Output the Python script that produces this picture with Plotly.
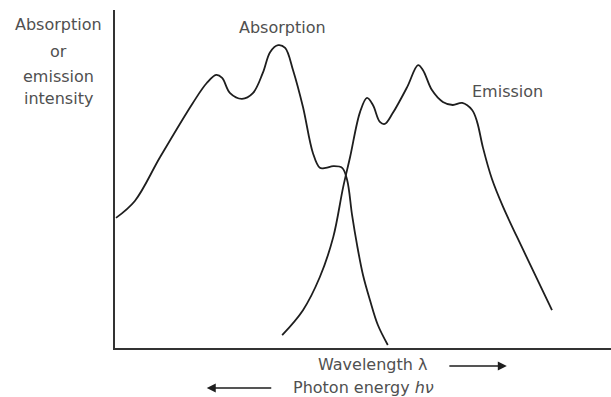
import plotly.graph_objects as go

# Absorption spectrum (arbitrary wavelength units 0-100, arbitrary intensity 0-100)
abs_x = [0.2, 4.0, 9.1, 15.7, 18.5, 20.4, 21.6, 23.2, 25.6, 27.8, 29.8, 31.3, 32.9,
         34.3, 35.9, 37.9, 39.9, 41.3, 42.5, 44.0, 45.8, 46.8, 47.8, 48.8, 50.0, 51.4, 53.0, 55.0]
abs_y = [38.5, 43.5, 56.5, 72.5, 78.4, 80.8, 79.9, 75.4, 73.7, 75.4, 81.4, 87.6, 89.6,
         88.8, 82.2, 71.3, 57.7, 53.3, 53.3, 53.8, 53.3, 49.7, 39.3, 30.5, 21.6, 14.2, 6.8, 0.9]

# Emission spectrum
emi_x = [33.7, 37.9, 41.3, 44.0, 46.0, 47.4, 49.4, 50.8, 52.0, 53.4, 54.4, 56.0, 58.9, 61.1,
         62.1, 63.9, 66.1, 68.1, 70.0, 72.0, 73.0, 74.2, 76.0, 78.2, 82.3, 88.1]
emi_y = [3.8, 11.2, 21.0, 32.8, 47.6, 56.5, 69.8, 74.0, 71.9, 66.9, 66.3, 69.5, 77.2, 83.7,
         82.2, 76.3, 72.8, 71.9, 72.5, 70.4, 66.9, 59.2, 50.0, 41.9, 29.0, 11.2]

ylabel_lines = ["Absorption", "or", "emission", "intensity"]
curve_labels = ["Absorption", "Emission"]
xlabel_top = "Wavelength λ"
xlabel_bottom = "Photon energy <i>hν</i>"

LINE = "#1e1e1e"
TEXT = "#505050"
FONT = "DejaVu Sans"

fig = go.Figure()
for xs, ys in ((abs_x, abs_y), (emi_x, emi_y)):
    fig.add_trace(go.Scatter(x=xs, y=ys, mode="lines",
                             line=dict(color=LINE, width=1.8, shape="spline", smoothing=1.0),
                             hoverinfo="skip", showlegend=False))

f = dict(family=FONT, size=16, color=TEXT)
ann = []
# y-axis label lines (paper coords, left of the plot area)
for txt, yy in zip(ylabel_lines, [0.956, 0.876, 0.802, 0.737]):
    ann.append(dict(x=-0.113, y=yy, xref="paper", yref="paper", text=txt, showarrow=False,
                    font=f, xanchor="center", yanchor="middle"))
# curve labels
ann.append(dict(x=33.7, y=94.7, xref="x", yref="y", text=curve_labels[0], showarrow=False,
                font=f, xanchor="center", yanchor="middle"))
ann.append(dict(x=79.2, y=76.0, xref="x", yref="y", text=curve_labels[1], showarrow=False,
                font=f, xanchor="center", yanchor="middle"))
# bottom labels
ann.append(dict(x=0.520, y=-0.050, xref="paper", yref="paper", text=xlabel_top,
                showarrow=False, font=f, xanchor="center", yanchor="middle"))
ann.append(dict(x=0.502, y=-0.118, xref="paper", yref="paper", text=xlabel_bottom,
                showarrow=False, font=f, xanchor="center", yanchor="middle"))
# arrows
ann.append(dict(x=0.790, y=-0.053, xref="paper", yref="paper", ax=-59, ay=0,
                text="", showarrow=True, arrowhead=2, arrowsize=1.2, arrowwidth=1.5, arrowcolor=LINE))
ann.append(dict(x=0.185, y=-0.118, xref="paper", yref="paper", ax=66, ay=0,
                text="", showarrow=True, arrowhead=2, arrowsize=1.2, arrowwidth=1.5, arrowcolor=LINE))

fig.update_layout(
    width=611, height=397,
    margin=dict(l=115, r=0, t=10, b=49),
    paper_bgcolor="white", plot_bgcolor="white",
    annotations=ann,
    xaxis=dict(range=[0, 100], showline=True, linecolor="#333", linewidth=1.5,
               showgrid=False, zeroline=False, showticklabels=False, ticks=""),
    yaxis=dict(range=[0, 100], showline=True, linecolor="#333", linewidth=1.5,
               showgrid=False, zeroline=False, showticklabels=False, ticks=""),
)

fig.write_html("out.html")
